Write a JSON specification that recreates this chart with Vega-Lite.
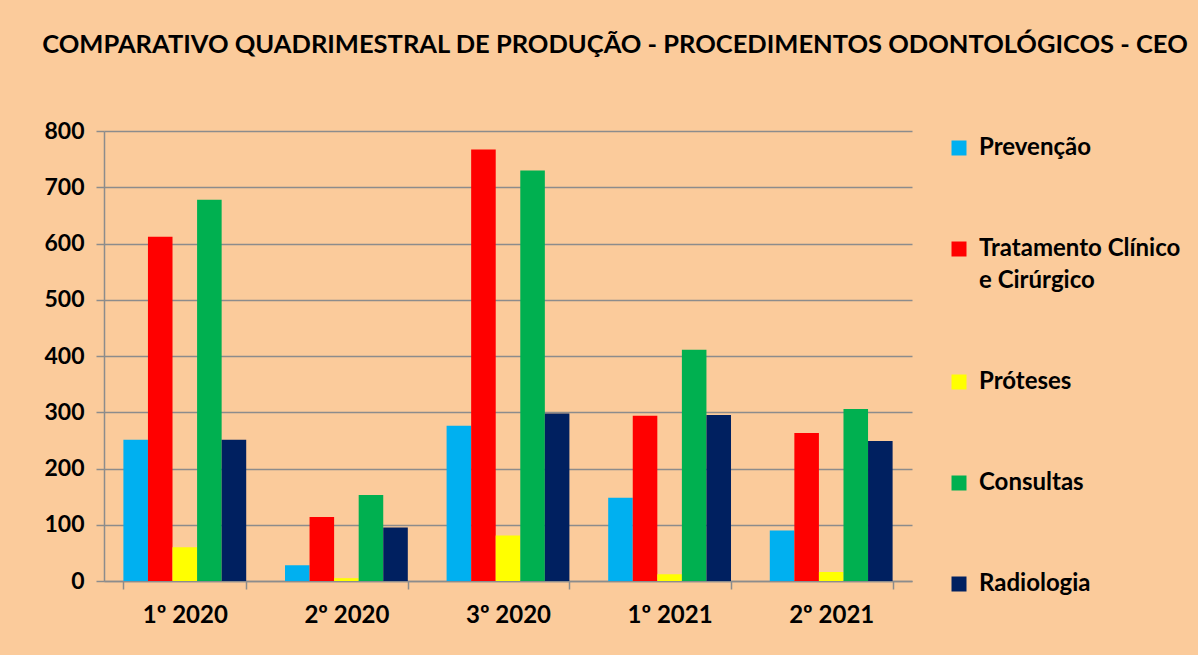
{
  "$schema": "https://vega.github.io/schema/vega-lite/v6.json",
  "autosize": {"type": "fit", "contains": "padding"},
  "width": 1198,
  "height": 655,
  "padding": {"left": 43, "top": 32, "right": 12, "bottom": 28},
  "background": "#FBCB9B",
  "title": {
    "text": "COMPARATIVO QUADRIMESTRAL DE PRODUÇÃO - PROCEDIMENTOS ODONTOLÓGICOS - CEO",
    "font": "Lato",
    "fontSize": 25.5,
    "fontWeight": "bold",
    "color": "#000000",
    "anchor": "middle",
    "frame": "bounds",
    "offset": 62
  },
  "data": {
    "values": [
      {"periodo": "1º 2020", "serie": "Prevenção", "valor": 251},
      {"periodo": "1º 2020", "serie": "Tratamento Clínico e Cirúrgico", "valor": 612},
      {"periodo": "1º 2020", "serie": "Próteses", "valor": 60},
      {"periodo": "1º 2020", "serie": "Consultas", "valor": 678},
      {"periodo": "1º 2020", "serie": "Radiologia", "valor": 251},
      {"periodo": "2º 2020", "serie": "Prevenção", "valor": 28},
      {"periodo": "2º 2020", "serie": "Tratamento Clínico e Cirúrgico", "valor": 114},
      {"periodo": "2º 2020", "serie": "Próteses", "valor": 5},
      {"periodo": "2º 2020", "serie": "Consultas", "valor": 153},
      {"periodo": "2º 2020", "serie": "Radiologia", "valor": 95},
      {"periodo": "3º 2020", "serie": "Prevenção", "valor": 276},
      {"periodo": "3º 2020", "serie": "Tratamento Clínico e Cirúrgico", "valor": 767},
      {"periodo": "3º 2020", "serie": "Próteses", "valor": 81},
      {"periodo": "3º 2020", "serie": "Consultas", "valor": 730},
      {"periodo": "3º 2020", "serie": "Radiologia", "valor": 298},
      {"periodo": "1º 2021", "serie": "Prevenção", "valor": 148},
      {"periodo": "1º 2021", "serie": "Tratamento Clínico e Cirúrgico", "valor": 294},
      {"periodo": "1º 2021", "serie": "Próteses", "valor": 12},
      {"periodo": "1º 2021", "serie": "Consultas", "valor": 411},
      {"periodo": "1º 2021", "serie": "Radiologia", "valor": 295},
      {"periodo": "2º 2021", "serie": "Prevenção", "valor": 90},
      {"periodo": "2º 2021", "serie": "Tratamento Clínico e Cirúrgico", "valor": 263},
      {"periodo": "2º 2021", "serie": "Próteses", "valor": 16},
      {"periodo": "2º 2021", "serie": "Consultas", "valor": 306},
      {"periodo": "2º 2021", "serie": "Radiologia", "valor": 249}
    ]
  },
  "mark": {"type": "bar"},
  "encoding": {
    "x": {
      "field": "periodo",
      "type": "nominal",
      "sort": ["1º 2020", "2º 2020", "3º 2020", "1º 2021", "2º 2021"],
      "scale": {"paddingInner": 0.24, "paddingOuter": 0.12},
      "axis": {
        "title": null,
        "labelAngle": 0,
        "labelFont": "Lato",
        "labelFontSize": 24,
        "labelFontWeight": "bold",
        "labelColor": "#000000",
        "labelPadding": 14,
        "domainColor": "#8C8C8C",
        "domainWidth": 1.5,
        "tickColor": "#8C8C8C",
        "tickWidth": 1.5,
        "tickBand": "extent",
        "tickSize": 8
      }
    },
    "xOffset": {
      "field": "serie",
      "type": "nominal",
      "sort": ["Prevenção", "Tratamento Clínico e Cirúrgico", "Próteses", "Consultas", "Radiologia"]
    },
    "y": {
      "field": "valor",
      "type": "quantitative",
      "scale": {"domain": [0, 800]},
      "axis": {
        "title": null,
        "values": [0, 100, 200, 300, 400, 500, 600, 700, 800],
        "labelOverlap": false,
        "labelFont": "Lato",
        "labelFontSize": 23,
        "labelFontWeight": "bold",
        "labelColor": "#000000",
        "labelPadding": 12,
        "domainColor": "#8C8C8C",
        "domainWidth": 1.5,
        "tickColor": "#8C8C8C",
        "tickWidth": 1.5,
        "tickSize": 8,
        "grid": true,
        "gridColor": "#8C8C8C",
        "gridWidth": 1.5
      }
    },
    "color": {
      "field": "serie",
      "type": "nominal",
      "sort": ["Prevenção", "Tratamento Clínico e Cirúrgico", "Próteses", "Consultas", "Radiologia"],
      "scale": {
        "domain": ["Prevenção", "Tratamento Clínico e Cirúrgico", "Próteses", "Consultas", "Radiologia"],
        "range": ["#00B0F0", "#FF0000", "#FFFF00", "#00B050", "#002060"]
      },
      "legend": {
        "title": null,
        "orient": "right",
        "symbolType": "square",
        "symbolSize": 225,
        "symbolStrokeWidth": 0,
        "labelFont": "Lato",
        "labelFontSize": 24,
        "labelFontWeight": "bold",
        "labelColor": "#000000",
        "labelLimit": 300,
        "labelOffset": 8,
        "labelExpr": "datum.label == 'Tratamento Clínico e Cirúrgico' ? ['Tratamento Clínico', 'e Cirúrgico'] : datum.label",
        "rowPadding": 77,
        "offset": 30,
        "padding": 5,
        "encode": {"labels": {"update": {"lineHeight": {"value": 32}}}}
      }
    }
  },
  "config": {
    "view": {"stroke": null}
  }
}
